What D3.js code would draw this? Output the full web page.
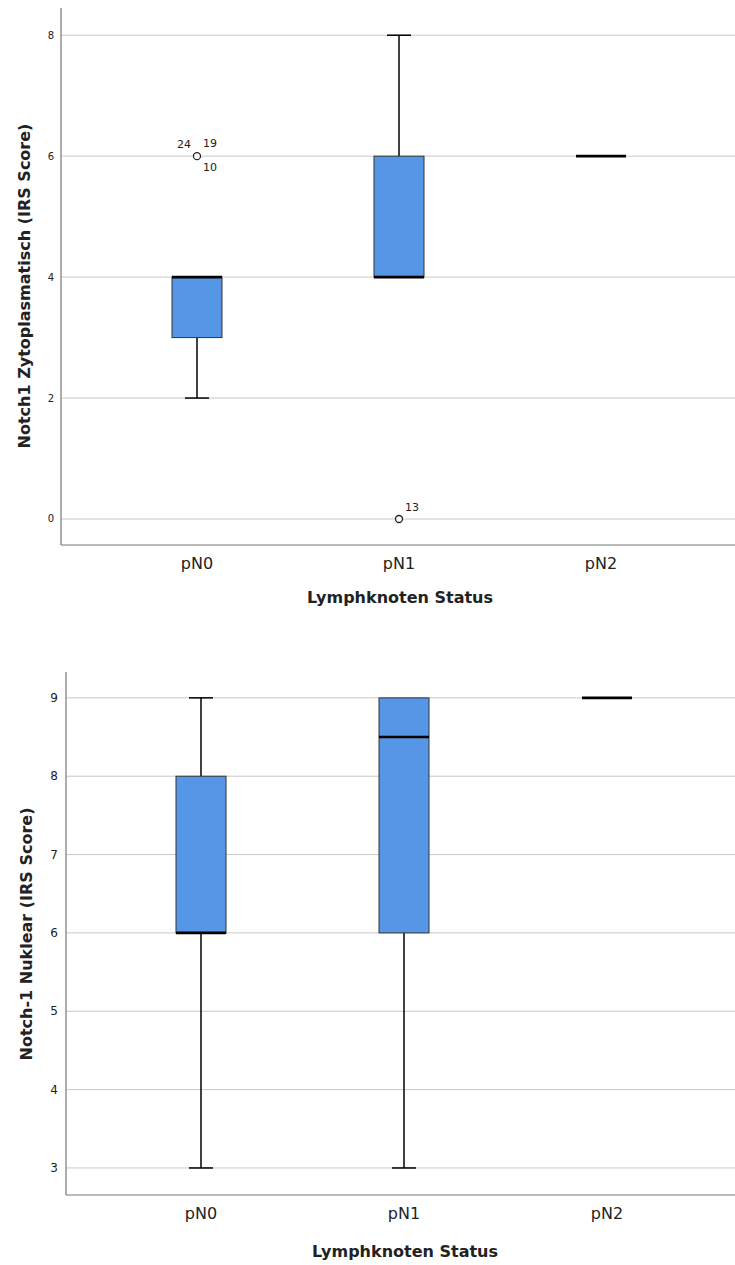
<!DOCTYPE html>
<html>
<head>
<meta charset="utf-8">
<script src="https://cdn.jsdelivr.net/npm/d3@7"></script>
<style>
  body { margin: 0; background: #fff; }
  svg { display: block; }
  text { font-family: "DejaVu Sans", "Liberation Sans", sans-serif; fill: #222; }
</style>
</head>
<body>
<div id="chart"></div>
<script>
// categories
var categories = ["pN0", "pN1", "pN2"];

// chart 1: Notch1 zytoplasmatisch - [whiskerLow, q1, median, q3, whiskerHigh]
var cytoStats = [
    [2, 3, 4, 4, 4],
    [4, 4, 4, 6, 8],
    [6, 6, 6, 6, 6]
];
// outliers: [category, value, labels]
var cytoOutliers = [
    ["pN0", 6, ["24", "19", "10"]],
    ["pN1", 0, ["13"]]
];
var cytoTicks = [0, 2, 4, 6, 8];

// chart 2: Notch-1 nuklear
var nucStats = [
    [3, 6, 6, 8, 9],
    [3, 6, 8.5, 9, 9],
    [9, 9, 9, 9, 9]
];
var nucOutliers = [];
var nucTicks = [3, 4, 5, 6, 7, 8, 9];

var svg = d3.select("#chart").append("svg")
    .attr("width", 735)
    .attr("height", 1265);

function drawPanel(oCfg) {

    var g = svg.append("g");

    var y = d3.scaleLinear().domain(oCfg.yDomain).range([oCfg.bottom, oCfg.top]);
    var x = d3.scalePoint().domain(categories).range(oCfg.xRange);

    // grid lines
    g.selectAll("line.grid").data(oCfg.ticks).enter().append("line")
        .attr("x1", oCfg.left).attr("x2", 735)
        .attr("y1", function(d) { return y(d); })
        .attr("y2", function(d) { return y(d); })
        .style("stroke", "#c8c8c8")
        .style("stroke-width", 1);

    // axes lines
    g.append("line")
        .attr("x1", oCfg.left).attr("x2", oCfg.left)
        .attr("y1", oCfg.top).attr("y2", oCfg.bottom)
        .style("stroke", "#777").style("stroke-width", 1.2);
    g.append("line")
        .attr("x1", oCfg.left).attr("x2", 735)
        .attr("y1", oCfg.bottom).attr("y2", oCfg.bottom)
        .style("stroke", "#777").style("stroke-width", 1.2);

    // y tick labels
    g.selectAll("text.ytick").data(oCfg.ticks).enter().append("text")
        .attr("x", oCfg.left - oCfg.tickGap)
        .attr("y", function(d) { return y(d); })
        .attr("dy", "0.35em")
        .attr("text-anchor", "end")
        .style("font-size", oCfg.tickSize + "px")
        .text(function(d) { return d; });

    // x labels
    g.selectAll("text.xlab").data(categories).enter().append("text")
        .attr("x", function(d) { return x(d); })
        .attr("y", oCfg.bottom + oCfg.labelDy)
        .attr("text-anchor", "middle")
        .style("font-size", "16px")
        .text(function(d) { return d; });

    g.append("text")
        .attr("x", x("pN1") + 1)
        .attr("y", oCfg.bottom + oCfg.titleDy)
        .attr("text-anchor", "middle")
        .style("font-size", "16px")
        .style("font-weight", "bold")
        .text("Lymphknoten Status");

    g.append("text")
        .attr("transform", "translate(" + oCfg.titleX + "," + oCfg.titleY + ") rotate(-90)")
        .attr("text-anchor", "middle")
        .style("font-size", "16px")
        .style("font-weight", "bold")
        .text(oCfg.yTitle);

    var boxW = 50, capW = 24;

    var boxes = g.selectAll("g.box").data(oCfg.stats).enter().append("g");

    boxes.each(function(s, i) {
        var cx = x(categories[i]);
        var b = d3.select(this);
        // whiskers
        if (s[0] < s[1]) {
            b.append("line").attr("x1", cx).attr("x2", cx).attr("y1", y(s[0])).attr("y2", y(s[1]))
                .style("stroke", "#000").style("stroke-width", 1.5);
            b.append("line").attr("x1", cx - capW / 2).attr("x2", cx + capW / 2).attr("y1", y(s[0])).attr("y2", y(s[0]))
                .style("stroke", "#000").style("stroke-width", 1.5);
        }
        if (s[4] > s[3]) {
            b.append("line").attr("x1", cx).attr("x2", cx).attr("y1", y(s[4])).attr("y2", y(s[3]))
                .style("stroke", "#000").style("stroke-width", 1.5);
            b.append("line").attr("x1", cx - capW / 2).attr("x2", cx + capW / 2).attr("y1", y(s[4])).attr("y2", y(s[4]))
                .style("stroke", "#000").style("stroke-width", 1.5);
        }
        // box
        if (s[3] > s[1]) {
            b.append("rect")
                .attr("x", cx - boxW / 2).attr("width", boxW)
                .attr("y", y(s[3])).attr("height", y(s[1]) - y(s[3]))
                .style("fill", "#5596e6")
                .style("stroke", "#333").style("stroke-width", 1);
        }
        // median
        b.append("line").attr("x1", cx - boxW / 2).attr("x2", cx + boxW / 2)
            .attr("y1", y(s[2])).attr("y2", y(s[2]))
            .style("stroke", "#000").style("stroke-width", 2.6);
    });

    // outliers
    oCfg.outliers.forEach(function(o) {
        var cx = x(o[0]), cy = y(o[1]);
        g.append("circle").attr("cx", cx).attr("cy", cy).attr("r", 3.5)
            .style("fill", "#fff").style("stroke", "#222").style("stroke-width", 1.3);
        var labs = o[2];
        if (labs.length === 3) {
            g.append("text").attr("x", cx - 6).attr("y", cy - 8).attr("text-anchor", "end")
                .style("font-size", "11px").text(labs[0]);
            g.append("text").attr("x", cx + 6).attr("y", cy - 9)
                .style("font-size", "11px").text(labs[1]);
            g.append("text").attr("x", cx + 6).attr("y", cy + 15)
                .style("font-size", "11px").text(labs[2]);
        }
        else {
            g.append("text").attr("x", cx + 6).attr("y", cy - 8)
                .style("font-size", "11px").text(labs[0]);
        }
    });
}

drawPanel({
    top: 8, bottom: 545, left: 61,
    yDomain: [-0.43, 8.45],
    xRange: [197, 601],
    ticks: cytoTicks,
    tickSize: 10,
    tickGap: 7,
    labelDy: 24,
    titleDy: 58,
    stats: cytoStats,
    outliers: cytoOutliers,
    titleX: 30,
    titleY: 286,
    yTitle: "Notch1 Zytoplasmatisch (IRS Score)"
});

drawPanel({
    top: 672, bottom: 1195, left: 66,
    yDomain: [2.655, 9.33],
    xRange: [201, 607],
    ticks: nucTicks,
    tickSize: 12,
    tickGap: 8,
    labelDy: 24,
    titleDy: 62,
    stats: nucStats,
    outliers: nucOutliers,
    titleX: 32,
    titleY: 934,
    yTitle: "Notch-1 Nuklear (IRS Score)"
});
</script>
</body>
</html>
